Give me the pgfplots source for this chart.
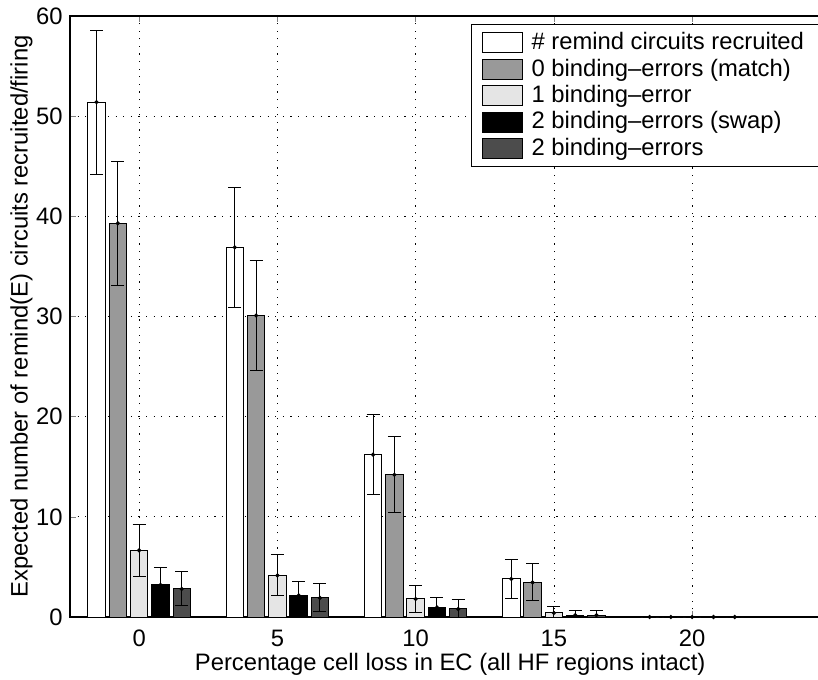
\documentclass[border=0pt]{standalone}
\usepackage{pgfplots}
\pgfplotsset{compat=1.18}
\usepackage{pgfplotstable}
\usepackage{fontspec}
\setmainfont{Liberation Sans}

\definecolor{barA}{gray}{1}
\definecolor{barB}{gray}{0.6}
\definecolor{barC}{gray}{0.9}
\definecolor{barD}{gray}{0}
\definecolor{barE}{gray}{0.3}

% columns: cell loss, mean, error
\pgfplotstableread{
x y e
0 51.4 7.2
5 36.9 6.0
10 16.2 4.0
15 3.8 1.95
20 0 0
}\recruited
\pgfplotstableread{
x y e
0 39.3 6.2
5 30.1 5.5
10 14.2 3.8
15 3.45 1.85
20 0 0
}\match
\pgfplotstableread{
x y e
0 6.65 2.6
5 4.15 2.05
10 1.8 1.35
15 0.4 0.67
20 0 0
}\one
\pgfplotstableread{
x y e
0 3.2 1.7
5 2.15 1.4
10 0.95 0.95
15 0.18 0.5
20 0 0
}\swap
\pgfplotstableread{
x y e
0 2.8 1.7
5 1.9 1.4
10 0.8 0.9
15 0.18 0.45
20 0 0
}\two

\begin{document}
\fontsize{11.9}{14.3}\selectfont
\begin{tikzpicture}
\begin{axis}[
  scale only axis,
  width=380.2pt, height=300.5pt,
  xmin=-2.5, xmax=25, ymin=0, ymax=60,
  xtick={0,5,10,15,20}, ytick={0,10,...,60},
  tick align=inside, major tick length=3pt,
  grid=major,
  major grid style={black, line width=0.4pt, dash pattern=on 0.6pt off 3.2pt},
  axis line style={line width=0.6pt},
  /pgf/number format/assume math mode=true,
  xticklabel style={yshift=-2.5pt},
  yticklabel style={xshift=0.5pt},
  xlabel={Percentage cell loss in EC (all HF regions intact)},
  ylabel={Expected number of remind(E) circuits recruited/firing},
  xlabel style={at={(axis description cs:0.5,-0.0599)}, anchor=north, inner sep=0pt},
  ylabel style={at={(axis description cs:-0.0487,0.5)}, anchor=south, inner sep=0pt},
  bar width=0.63, bar shift=0pt,
  every axis plot/.append style={ybar, draw=black, line width=0.5pt,
    mark=*, mark size=0.8pt, mark options={fill=black, draw=black},
    error bars/y dir=both, error bars/y explicit,
    error bars/error bar style={black, line width=0.5pt},
    error bars/error mark options={rotate=90, black, mark size=3.25pt, line width=0.5pt}},
  legend image code/.code={\draw[#1, mark=none] (0pt,-5pt) rectangle (20pt,5pt);},
  legend cell align=left,
  legend style={at={(0.5274,0.9867)}, anchor=north west, draw=black, fill=white,
    line width=0.5pt, row sep=-1.2pt, column sep=2.5pt, inner xsep=5pt, inner ysep=2pt},
]
\addplot[fill=barA] table[x expr=\thisrow{x}-1.54, y=y, y error=e] {\recruited};
\addlegendentry{\# remind circuits recruited}
\addplot[fill=barB] table[x expr=\thisrow{x}-0.77, y=y, y error=e] {\match};
\addlegendentry{0 binding–errors (match)}
\addplot[fill=barC] table[x expr=\thisrow{x}, y=y, y error=e] {\one};
\addlegendentry{1 binding–error}
\addplot[fill=barD] table[x expr=\thisrow{x}+0.77, y=y, y error=e] {\swap};
\addlegendentry{2 binding–errors (swap)}
\addplot[fill=barE] table[x expr=\thisrow{x}+1.54, y=y, y error=e] {\two};
\addlegendentry{2 binding–errors}
\end{axis}
\pgfresetboundingbox
\useasboundingbox (-35pt,-31pt) rectangle (374pt,308.5pt);
\end{tikzpicture}
\end{document}
